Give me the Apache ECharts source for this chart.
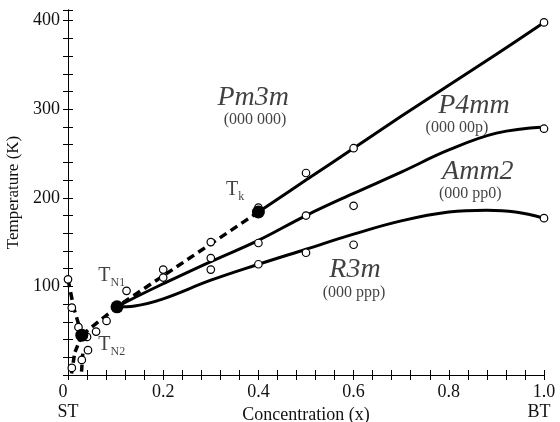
<!DOCTYPE html>
<html><head><meta charset="utf-8">
<script src="https://cdn.jsdelivr.net/npm/echarts/dist/echarts.min.js"></script>
<style>html,body{margin:0;padding:0;background:#fff}#c{width:560px;height:422px}</style>
</head><body><div id="c"></div>
<script>
// ---- data (concentration x, temperature K) ----
const upperBoundary = [[0.4,184],[0.5,220],[0.6,256],[0.7,292],[0.8,327],[0.9,362],[1.0,398]];
const middleBoundary = [[0.103,77],[0.15,90],[0.2,103],[0.3,128],[0.4,152],[0.5,180],[0.6,205],[0.7,229],[0.8,254],[0.9,273],[1.0,280]];
const lowerBoundary = [[0.103,77],[0.14,78],[0.2,86],[0.3,107],[0.4,125],[0.5,142],[0.6,159],[0.7,174],[0.8,184],[0.88,186],[0.94,184],[1.0,177]];
const dashedMain = [[0.029,45],[0.103,77],[0.4,184]];
const dashedLeft = [[0.0,108],[0.012,76],[0.029,45]];
const dashedDownA = [[0.029,45],[0.014,25],[0.007,0]];
const dashedDownB = [[0.031,24],[0.028,0]];
const openPoints = [[0.0,108],[0.008,76],[0.022,54],[0.04,43],[0.059,49],[0.081,61],[0.123,95],[0.042,28],[0.029,17],[0.008,8],
  [0.2,119],[0.2,110],[0.3,150],[0.3,132],[0.3,119],[0.4,189],[0.4,149],[0.4,125],
  [0.5,228],[0.5,180],[0.5,138],[0.6,256],[0.6,191],[0.6,147],[1.0,398],[1.0,278],[1.0,177]];
const criticalPoints = [[0.029,45],[0.103,77],[0.4,184]];
const xTickValues = [0,0.2,0.4,0.6,0.8,1.0];
const xTickLabels = ['0','0.2','0.4','0.6','0.8','1.0'];
const yTickValues = [100,200,300,400];
const endLabels = ['ST','BT'];
const phaseNames = ['Pm3m','P4mm','Amm2','R3m'];
const phaseOrders = ['(000 000)','(000 00p)','(000 pp0)','(000 ppp)'];
const phaseNamePos = [[0.389,313],[0.853,304],[0.861,230],[0.603,119]];
const phaseOrderPos = [[0.393,288],[0.817,279],[0.845,205],[0.601,93]];
const critNames = [['T','k'],['T','N1'],['T','N2']];
const critNamePos = [[0.351,209],[0.092,112],[0.092,34]];

const FONT = '"Liberation Serif","Times New Roman",serif';
const INK = '#000';
const TXT = '#111';
const chart = echarts.init(document.getElementById('c'), null, {renderer:'canvas'});

function xFmt(v){
  for (let i=0;i<xTickValues.length;i++) if (Math.abs(v-xTickValues[i])<1e-6) return i===0 ? '{z|'+xTickLabels[i]+'}' : xTickLabels[i];
  return '';
}
function yFmt(v){
  for (let i=0;i<yTickValues.length;i++) if (Math.abs(v-yTickValues[i])<1e-6) return String(yTickValues[i]);
  return '';
}
const axisLine = {show:true, lineStyle:{color:INK, width:1}};
const tick = {show:true, inside:true, length:5, lineStyle:{color:INK, width:1}};

const labelData = [];
phaseNames.forEach((t,i)=>labelData.push({value:phaseNamePos[i], label:{formatter:t, fontSize:28, fontStyle:'italic'}}));
phaseOrders.forEach((t,i)=>labelData.push({value:phaseOrderPos[i], label:{formatter:t, fontSize:16}}));
critNames.forEach((t,i)=>labelData.push({value:critNamePos[i], label:{formatter:'{a|'+t[0]+'}{b|'+t[1]+'}'}}));

const lineBase = {type:'line', symbol:'none', silent:true, z:3};
chart.setOption({
  animation:false,
  backgroundColor:'#fff',
  grid:{left:68, right:16, top:10, bottom:47, containLabel:false, outerBoundsMode:'none'},
  xAxis:[
    {type:'value', min:0, max:1, interval:0.04, position:'bottom', axisLine, axisTick:tick, splitLine:{show:false},
     axisLabel:{formatter:xFmt, fontFamily:FONT, fontSize:18, color:TXT, margin:8, showMinLabel:true, showMaxLabel:true,
       rich:{z:{fontFamily:FONT, fontSize:18, color:TXT, padding:[0,10,0,0]}}},
     name:'Concentration (x)', nameLocation:'middle', nameGap:27, nameTextStyle:{fontFamily:FONT, fontSize:18, color:TXT}},
    {type:'value', min:0, max:1, interval:0.04, position:'top', axisLine, axisTick:tick, splitLine:{show:false}, axisLabel:{show:false}},
    {type:'value', min:0, max:1, interval:1, position:'bottom', axisLine:{show:false}, axisTick:{show:false}, splitLine:{show:false},
     axisLabel:{formatter:v=>v<0.5?endLabels[0]:'{r|'+endLabels[1]+'}', fontFamily:FONT, fontSize:18, color:TXT, margin:28, showMinLabel:true, showMaxLabel:true,
       rich:{r:{fontFamily:FONT, fontSize:18, color:TXT, padding:[0,10,0,0]}}}}
  ],
  yAxis:[
    {type:'value', min:0, max:412, interval:20, position:'left', axisLine, axisTick:tick, splitLine:{show:false},
     axisLabel:{formatter:yFmt, fontFamily:FONT, fontSize:18, color:TXT, margin:8},
     name:'Temperature (K)', nameLocation:'middle', nameGap:40, nameTextStyle:{fontFamily:FONT, fontSize:17, color:TXT}},
    {type:'value', min:0, max:412, interval:20, position:'right', axisLine, axisTick:tick, splitLine:{show:false}, axisLabel:{show:false}}
  ],
  series:[
    Object.assign({}, lineBase, {data:upperBoundary, smooth:0.4, lineStyle:{color:INK, width:3}}),
    Object.assign({}, lineBase, {data:middleBoundary, smooth:0.4, lineStyle:{color:INK, width:3}}),
    Object.assign({}, lineBase, {data:lowerBoundary, smooth:0.4, lineStyle:{color:INK, width:3}}),
    Object.assign({}, lineBase, {data:dashedMain, lineStyle:{color:INK, width:3.5, type:[8,5]}}),
    Object.assign({}, lineBase, {data:dashedLeft, lineStyle:{color:INK, width:3.5, type:[8,5]}}),
    Object.assign({}, lineBase, {data:dashedDownA, lineStyle:{color:INK, width:3.5, type:[7,4]}}),
    Object.assign({}, lineBase, {data:dashedDownB, lineStyle:{color:INK, width:3.5, type:[7,4]}}),
    {type:'scatter', data:openPoints, symbol:'circle', symbolSize:7.5, z:5, silent:true,
     itemStyle:{color:'#fff', borderColor:INK, borderWidth:1.2, opacity:1}},
    {type:'scatter', data:criticalPoints, symbol:'circle', symbolSize:13, z:6, silent:true,
     itemStyle:{color:INK, borderWidth:0, opacity:1}},
    {type:'scatter', data:labelData, symbolSize:1, z:7, silent:true, itemStyle:{color:'rgba(0,0,0,0)'},
     label:{show:true, position:'inside', fontFamily:FONT, color:TXT,
       rich:{a:{fontFamily:FONT, fontSize:20, color:TXT, lineHeight:26},
             b:{fontFamily:FONT, fontSize:12, color:TXT, padding:[14,0,0,0]}}}}
  ]
});
</script></body></html>
